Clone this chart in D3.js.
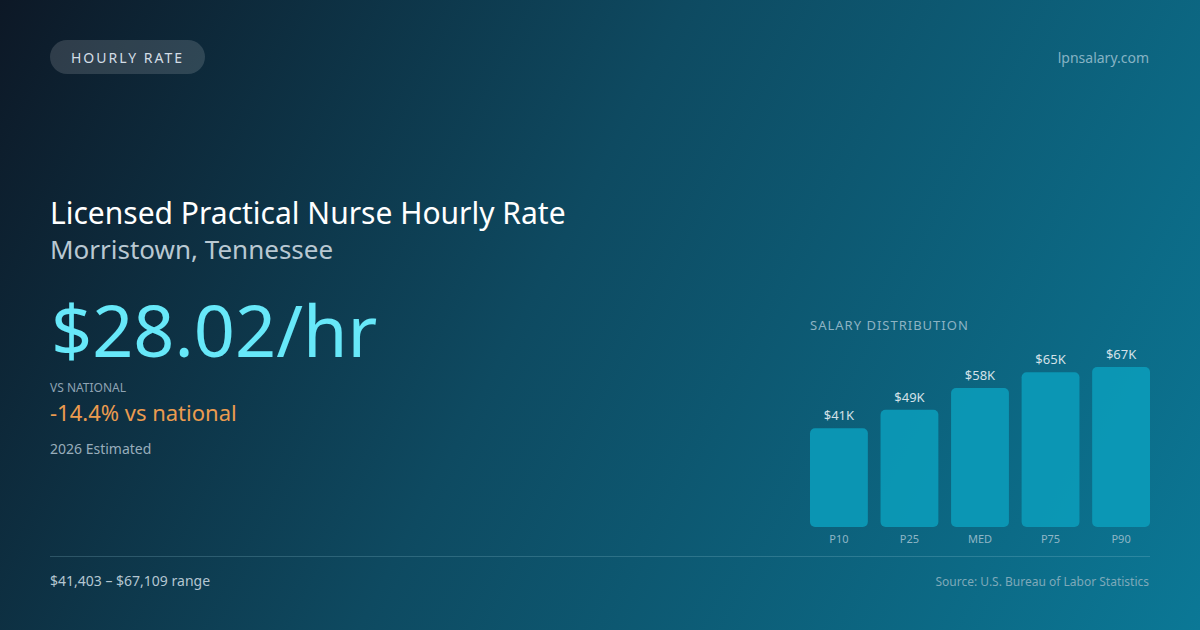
<!DOCTYPE html>
<html><head><meta charset="utf-8">
<script src="https://cdn.jsdelivr.net/npm/d3@7"></script>
<style>html,body{margin:0;padding:0;background:#0f1a2a;}svg{display:block;font-family:"Noto Sans",sans-serif;}</style>
</head><body>
<svg id="c" width="1200" height="630"></svg>
<script>
const categories = ["P10","P25","MED","P75","P90"];
const salaries = [41403, 49200, 58282, 64900, 67109];
const valueLabels = ["$41K","$49K","$58K","$65K","$67K"];
const hourlyRate = "$28.02/hr";
const vsNational = "-14.4% vs national";
const rangeText = "$41,403 – $67,109 range";

const svg = d3.select("#c");
const defs = svg.append("defs");
const g = defs.append("linearGradient").attr("id","bg").attr("gradientUnits","userSpaceOnUse")
  .attr("x1",0).attr("y1",0).attr("x2",1200).attr("y2",630);
g.append("stop").attr("offset","0").attr("stop-color","#0d1826");
g.append("stop").attr("offset","0.45").attr("stop-color","#0e4a61");
g.append("stop").attr("offset","1").attr("stop-color","#0b7896");
svg.append("rect").attr("width",1200).attr("height",630).attr("fill","url(#bg)");

// pill
svg.append("rect").attr("x",50).attr("y",40).attr("width",155).attr("height",34).attr("rx",17)
  .attr("fill","rgba(255,255,255,0.14)");
svg.append("text").attr("x",127.5).attr("y",62.5).attr("text-anchor","middle")
  .attr("font-size",14).attr("letter-spacing",2).attr("fill","#d3dde6").text("HOURLY RATE");
svg.append("text").attr("x",1149).attr("y",63).attr("text-anchor","end")
  .attr("font-size",14).attr("fill","#86b3c4").text("lpnsalary.com");

svg.append("text").attr("x",50).attr("y",224).attr("font-size",30).attr("fill","#ffffff")
  .text("Licensed Practical Nurse Hourly Rate");
svg.append("text").attr("x",50).attr("y",259).attr("font-size",26).attr("fill","#b9c8d2")
  .text("Morristown, Tennessee");
svg.append("text").attr("x",51).attr("y",357).attr("font-size",72).attr("fill","#67e8f9")
  .text(hourlyRate);
svg.append("text").attr("x",50).attr("y",392).attr("font-size",12).attr("fill","#8fa3b3")
  .text("VS NATIONAL");
svg.append("text").attr("x",50).attr("y",421).attr("font-size",22).attr("fill","#eb9b4f")
  .text(vsNational);
svg.append("text").attr("x",50).attr("y",454).attr("font-size",14).attr("fill","#98adbb")
  .text("2026 Estimated");

// chart
svg.append("text").attr("x",810).attr("y",330).attr("font-size",13).attr("letter-spacing",1)
  .attr("fill","#8db3c3").text("SALARY DISTRIBUTION");
const x = d3.scaleBand().domain(categories).range([810,1150]).paddingInner(0.18).paddingOuter(0);
const y = d3.scaleLinear().domain([0, d3.max(salaries)]).range([527, 367]);
const bars = svg.append("g");
bars.selectAll("rect").data(salaries).join("rect")
  .attr("x",(d,i)=>x(categories[i])).attr("width",x.bandwidth())
  .attr("y",d=>y(d)).attr("height",d=>y(0)-y(d)).attr("rx",5)
  .attr("fill","#0b9bb9").attr("fill-opacity",0.9);
bars.selectAll("text.v").data(salaries).join("text").attr("class","v")
  .attr("x",(d,i)=>x(categories[i])+x.bandwidth()/2).attr("y",d=>y(d)-8)
  .attr("text-anchor","middle").attr("font-size",13).attr("fill","#d3e1e8")
  .text((d,i)=>valueLabels[i]);
const xAxis = svg.append("g").attr("transform","translate(0,527)")
  .call(d3.axisBottom(x).tickSize(0).tickPadding(8));
xAxis.select(".domain").remove();
xAxis.selectAll("text").attr("font-size",11).attr("fill","#8fb6c6").attr("font-family","Noto Sans, sans-serif");

svg.append("line").attr("x1",50).attr("x2",1150).attr("y1",556.5).attr("y2",556.5)
  .attr("stroke","rgba(160,210,225,0.22)").attr("stroke-width",1);
svg.append("text").attr("x",50).attr("y",586).attr("font-size",14).attr("fill","#b4c6d1")
  .text(rangeText);
svg.append("text").attr("x",1149).attr("y",586).attr("text-anchor","end").attr("font-size",12)
  .attr("fill","#7ea9b9").text("Source: U.S. Bureau of Labor Statistics");
</script>
</body></html>
